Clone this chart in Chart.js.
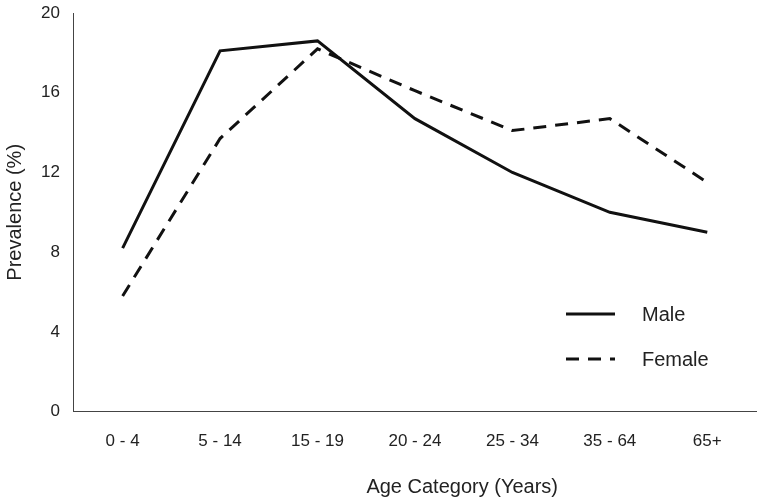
<!DOCTYPE html>
<html>
<head>
<meta charset="utf-8">
<script src="https://cdn.jsdelivr.net/npm/chart.js@4"></script>
<style>
html,body{margin:0;padding:0;background:#fff;}
#wrap{width:763px;height:503px;position:relative;}
</style>
</head>
<body>
<div id="wrap"><canvas id="c" width="763" height="503"></canvas></div>
<script>
const categories = ["0 - 4", "5 - 14", "15 - 19", "20 - 24", "25 - 34", "35 - 64", "65+"];
const maleValues = [8.2, 18.1, 18.6, 14.7, 12.0, 10.0, 9.0];
const femaleValues = [5.8, 13.7, 18.2, 16.1, 14.1, 14.7, 11.5];
const yTicks = [0, 4, 8, 12, 16, 20];

const FONT = "'Liberation Sans', Arial, Helvetica, sans-serif";

const insideLegend = {
  id: 'insideLegend',
  afterDraw(chart) {
    const ctx = chart.ctx;
    const x0 = 566, x1 = 615, tx = 642;
    const ys = [314, 359];
    chart.data.datasets.forEach((ds, i) => {
      ctx.save();
      ctx.strokeStyle = ds.borderColor;
      ctx.lineWidth = ds.borderWidth;
      ctx.setLineDash(ds.borderDash || []);
      ctx.beginPath();
      ctx.moveTo(x0, ys[i]);
      ctx.lineTo(x1, ys[i]);
      ctx.stroke();
      ctx.setLineDash([]);
      ctx.fillStyle = '#222';
      ctx.font = "20px " + FONT;
      ctx.textBaseline = 'middle';
      ctx.fillText(ds.label, tx, ys[i] + 1);
      ctx.restore();
    });
  }
};

new Chart(document.getElementById('c'), {
  type: 'line',
  data: {
    labels: categories,
    datasets: [
      { label: 'Male', data: maleValues, borderColor: '#111', borderWidth: 3, pointRadius: 0, tension: 0, fill: false },
      { label: 'Female', data: femaleValues, borderColor: '#111', borderWidth: 3, borderDash: [13, 9], pointRadius: 0, tension: 0, fill: false }
    ]
  },
  options: {
    responsive: false,
    animation: false,
    layout: { padding: { top: 13, right: 7, left: 3, bottom: 4 } },
    plugins: { legend: { display: false }, tooltip: { enabled: false } },
    scales: {
      x: {
        offset: true,
        grid: { display: false, drawTicks: false },
        border: { display: true, color: '#444', width: 1 },
        ticks: { color: '#222', font: { family: FONT, size: 17 }, padding: 20, maxRotation: 0 },
        title: { display: true, text: '                 Age Category (Years)', color: '#222', font: { family: FONT, size: 20 }, padding: { top: 3, bottom: 0 } }
      },
      y: {
        min: 0, max: 20,
        afterBuildTicks(axis) { axis.ticks = yTicks.map(v => ({ value: v })); },
        afterFit(scale) { scale.paddingTop = 0; },
        grid: { display: false, drawTicks: false },
        border: { display: true, color: '#444', width: 1 },
        ticks: { color: '#222', font: { family: FONT, size: 17 }, padding: 14 },
        title: { display: true, text: 'Prevalence (%)', color: '#222', font: { family: FONT, size: 20 }, padding: { top: 0, bottom: 0 } }
      }
    }
  },
  plugins: [insideLegend]
});
</script>
</body>
</html>
